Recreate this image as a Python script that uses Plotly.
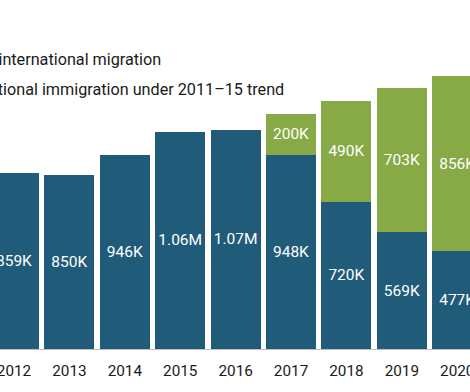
import plotly.graph_objects as go

years = ["2012", "2013", "2014", "2015", "2016", "2017", "2018", "2019", "2020"]
net_migration = [859, 850, 946, 1060, 1070, 948, 720, 569, 477]
net_labels = ["859K", "850K", "946K", "1.06M", "1.07M", "948K", "720K", "569K", "477K"]
additional = [None, None, None, None, None, 200, 490, 703, 856]
additional_labels = ["", "", "", "", "", "200K", "490K", "703K", "856K"]
series_names = ["Net international migration", "Additional immigration under 2011\u201315 trend"]

BLUE = "#205B79"
GREEN = "#87A946"
FONT = "Roboto, Arial, sans-serif"

fig = go.Figure()
fig.add_trace(go.Bar(
    x=years, y=net_migration, name=series_names[0],
    marker=dict(color=BLUE, line=dict(width=0)),
    text=net_labels, textposition="inside", insidetextanchor="middle", textangle=0,
    textfont=dict(color="white", size=15.5, family=FONT),
    constraintext="none", hoverinfo="skip",
))
fig.add_trace(go.Bar(
    x=years, y=additional, name=series_names[1],
    marker=dict(color=GREEN, line=dict(width=0)),
    text=additional_labels, textposition="inside", insidetextanchor="middle", textangle=0,
    textfont=dict(color="white", size=15.5, family=FONT),
    constraintext="none", hoverinfo="skip",
))

W, H = 470, 392
B = 43
plot_h = H - B
px_per_k = 273 / 1333.0

fig.update_layout(
    width=W, height=H,
    barmode="stack", bargap=0.098,
    showlegend=False,
    paper_bgcolor="white", plot_bgcolor="white",
    margin=dict(l=0, r=0, t=0, b=B, autoexpand=False),
    font=dict(family=FONT, size=15, color="#1a1a1a"),
    uniformtext=dict(minsize=15.5, mode="show"),
    xaxis=dict(
        type="category", range=[-0.253, 8.23],
        showline=True, linecolor="#BFBFBF", linewidth=1,
        showgrid=False, zeroline=False, ticks="",
        tickfont=dict(size=15.3, family=FONT, color="#1a1a1a"),
        ticklabelstandoff=8,
        fixedrange=True,
    ),
    yaxis=dict(
        range=[0, plot_h / px_per_k], visible=False,
        showgrid=False, zeroline=False, fixedrange=True,
    ),
)

# Legend-like labels (chart is cropped at the left, so the text start is clipped)
fig.add_annotation(
    text=series_names[0], xref="paper", yref="paper",
    x=163 / W, y=1 - 59 / plot_h, xanchor="right", yanchor="middle",
    showarrow=False, font=dict(size=16.2, family=FONT, color="#1a1a1a"),
)
fig.add_annotation(
    text=series_names[1], xref="paper", yref="paper",
    x=286 / W, y=1 - 90 / plot_h, xanchor="right", yanchor="middle",
    showarrow=False, font=dict(size=16.2, family=FONT, color="#1a1a1a"),
)

fig.write_html(
    "out.html",
    config={"displayModeBar": False},
    post_script="document.body.style.margin='0px';document.body.style.overflow='hidden';",
)
